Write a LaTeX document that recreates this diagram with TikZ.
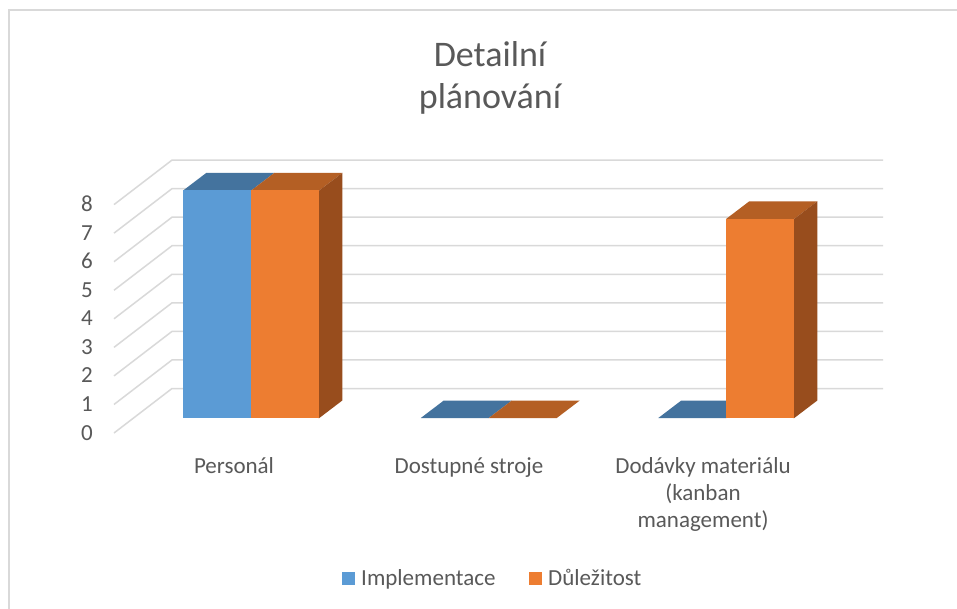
\documentclass[tikz,border=0pt]{standalone}
\usepackage{fontspec}
\setmainfont{Carlito}

\definecolor{txt}{HTML}{595959}
\definecolor{gridc}{HTML}{D9D9D9}
\definecolor{bluefront}{HTML}{5B9BD5}
\definecolor{bluetop}{HTML}{44739E}
\definecolor{orfront}{HTML}{ED7D31}
\definecolor{ortop}{HTML}{B45F24}
\definecolor{orside}{HTML}{984D1D}

% top face of a column: left x, top y (front edge)
\newcommand\coltop[3]{%
  \fill[#3] (#1,#2) -- ++(68,0) -- ++(23,-17.5) -- ++(-68,0) -- cycle;}
% front face of a column: left x, top y
\newcommand\colfront[3]{%
  \fill[#3] (#1,418) rectangle ++(68,#2-418);}
% right side face of a column: left x, top y (drawn under the front face)
\newcommand\colside[3]{%
  \fill[#3] (#1+67,#2) -- (#1+68,#2) -- ++(23,-17.5) -- (#1+91,400.5) -- (#1+68,418) -- (#1+67,418) -- cycle;}

\tikzset{
  gridline/.style={draw=gridc, line width=1.5pt},
  lbl/.style={text=txt, inner sep=0pt, font=\fontsize{23}{28}\selectfont},
  ttl/.style={text=txt, inner sep=0pt, font=\fontsize{36}{44}\selectfont},
}

\begin{document}
\begin{tikzpicture}[x=1pt, y=-1pt]
  \useasboundingbox (0,0) rectangle (957,609);
  \fill[white] (0,0) rectangle (957,609);

  % chart area frame
  \draw[gridc, line width=2pt] (9,609) -- (9,10) -- (957,10);

  % title
  \node[ttl, anchor=base] (t1) at (490,67) {Detailní};
  \node[ttl, anchor=base] (t2) at (490,109) {plánování};

  % back wall and side wall gridlines
  \foreach \k in {0,...,8} {
    \draw[gridline] (114,433-28.55*\k) -- (172,388.5-28.55*\k) -- (883,388.5-28.55*\k);
    \node[lbl, anchor=base east] (v\k) at (93,433-28.55*\k+7) {\k};
  }

  % Personál: 8 / 8
  \coltop{183.3}{190.4}{bluetop}
  \colfront{183.3}{190.4}{bluefront}
  \coltop{251.3}{190.4}{ortop}
  \colside{251.3}{190.4}{orside}
  \colfront{251.3}{190.4}{orfront}

  % Dostupné stroje: 0 / 0
  \coltop{420.8}{418}{bluetop}
  \coltop{488.8}{418}{ortop}

  % Dodávky materiálu: 0 / 7
  \coltop{658.3}{418}{bluetop}
  \coltop{726.3}{218.8}{ortop}
  \colside{726.3}{218.8}{orside}
  \colfront{726.3}{218.8}{orfront}

  % category labels
  \node[lbl, anchor=base] (c1) at (234,473) {Personál};
  \node[lbl, anchor=base] (c2) at (469,473) {Dostupné stroje};
  \node[lbl, anchor=base] (c3a) at (703,473) {Dodávky materiálu};
  \node[lbl, anchor=base] (c3b) at (703,500) {(kanban};
  \node[lbl, anchor=base] (c3c) at (703,527) {management)};

  % legend
  \fill[bluefront] (342,572) rectangle (355,585);
  \node[lbl, anchor=base west] (l1) at (361,585) {Implementace};
  \fill[orfront] (529,572) rectangle (542,585);
  \node[lbl, anchor=base west] (l2) at (548,585) {Důležitost};
\end{tikzpicture}
\end{document}
